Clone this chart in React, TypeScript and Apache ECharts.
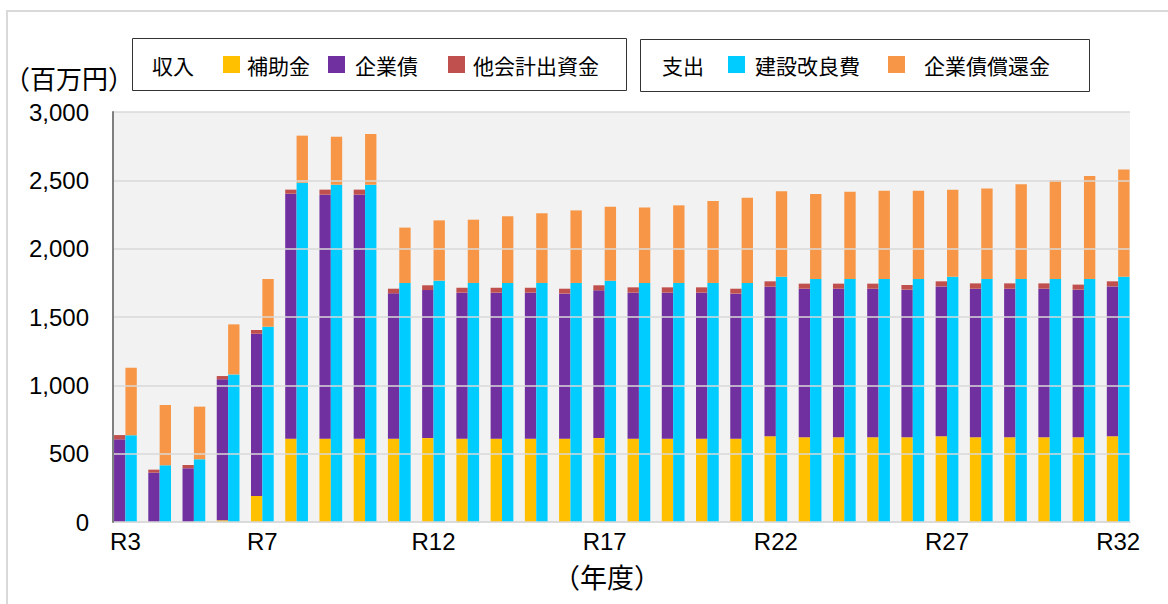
import React, { useEffect, useRef } from "react";
import * as echarts from "echarts";

const years = ["R3","R4","R5","R6","R7","R8","R9","R10","R11","R12","R13","R14","R15","R16","R17","R18","R19","R20","R21","R22","R23","R24","R25","R26","R27","R28","R29","R30","R31","R32"];
const shownYearLabels = ["R3","R7","R12","R17","R22","R27","R32"];
const yTicks = [0, 500, 1000, 1500, 2000, 2500, 3000];

// 収入
const subsidy = [0,0,0,12,190,610,610,610,610,614,610,610,610,610,614,610,610,610,610,627,620,620,620,620,627,620,620,620,620,627];
const bonds = [605,361,393,1032,1188,1792,1785,1785,1063,1083,1068,1068,1068,1061,1081,1068,1068,1068,1061,1095,1087,1087,1087,1080,1097,1087,1087,1087,1080,1097];
const otherAccount = [31,22,24,24,27,30,37,37,34,35,36,36,36,36,37,39,39,39,36,39,37,37,37,34,37,39,39,39,37,37];
// 支出
const construction = [635,415,459,1080,1429,2483,2468,2468,1749,1766,1749,1749,1749,1749,1766,1749,1749,1749,1749,1795,1778,1778,1778,1778,1795,1778,1778,1778,1778,1795];
const repayment = [494,441,385,366,349,344,351,371,405,441,463,488,510,531,541,553,568,600,624,625,622,639,646,646,637,663,693,722,754,785];

const CJK = '"Noto Sans CJK JP", "Noto Sans", sans-serif';
const NUM = '"Liberation Sans", Arial, sans-serif';

const legendItem = (name: string, left: number, pad: number) => ({
  show: true,
  data: [name],
  left,
  top: 54,
  padding: 0,
  icon: "rect",
  itemWidth: 17,
  itemHeight: 17,
  selectedMode: false,
  textStyle: { fontSize: 21, lineHeight: 21, color: "#000", fontFamily: CJK, padding: [0, 0, 0, pad] },
});

export default function App() {
  const ref = useRef<HTMLDivElement>(null);
  useEffect(() => {
    if (!ref.current) return;
    const chart = echarts.init(ref.current, null, { renderer: "svg" });
    const fmt = (v: number) => String(v).replace(/\B(?=(\d{3})+(?!\d))/g, ",");
    const yMin = yTicks[0];
    const yMax = yTicks[yTicks.length - 1];
    chart.setOption({
      animation: false,
      backgroundColor: "#ffffff",
      grid: [
        { left: 113, top: 112, width: 1017, height: 410, show: true, backgroundColor: "#f2f2f2", borderWidth: 0, outerBoundsMode: "none" },
        { left: 108.3, top: 112, width: 1027, height: 410, show: false, outerBoundsMode: "none" },
      ],
      legend: [
        legendItem("補助金", 223, 2),
        legendItem("企業債", 328, 5),
        legendItem("他会計出資金", 448, 3),
        legendItem("建設改良費", 728, 5),
        legendItem("企業債償還金", 888, 14),
      ],
      graphic: [
        { type: "rect", shape: { x: 7, y: 11, width: 1300, height: 800 }, style: { fill: "none", stroke: "#d9d9d9", lineWidth: 2 }, silent: true },
        { type: "rect", shape: { x: 132.5, y: 38.5, width: 494, height: 52 }, style: { fill: "#fff", stroke: "#333", lineWidth: 1 }, z: -1, silent: true },
        { type: "rect", shape: { x: 640.5, y: 39.5, width: 449, height: 52 }, style: { fill: "#fff", stroke: "#333", lineWidth: 1 }, z: -1, silent: true },
        { type: "text", x: 152, y: 65, style: { text: "収入", fontSize: 21, fontFamily: CJK, fill: "#000", verticalAlign: "middle", align: "left" } },
        { type: "text", x: 662, y: 65, style: { text: "支出", fontSize: 21, fontFamily: CJK, fill: "#000", verticalAlign: "middle", align: "left" } },
        { type: "text", x: 4, y: 77, style: { text: "（百万円）", fontSize: 26, fontFamily: CJK, fill: "#000", verticalAlign: "middle", align: "left" } },
        { type: "text", x: 607, y: 576, style: { text: "（年度）", fontSize: 27, fontFamily: CJK, fill: "#000", verticalAlign: "middle", align: "center" } },
      ],
      xAxis: [
        {
          type: "category",
          gridIndex: 0,
          data: years,
          axisLine: { show: true, lineStyle: { color: "#d9d9d9", width: 1.5 } },
          axisTick: { show: false },
          axisLabel: { show: false },
        },
        {
          type: "category",
          gridIndex: 1,
          data: years,
          axisLine: { show: false },
          axisTick: { show: false },
          axisLabel: {
            interval: (i: number, v: string) => shownYearLabels.includes(v),
            margin: 7,
            fontSize: 24,
            fontFamily: NUM,
            color: "#000",
          },
        },
      ],
      yAxis: [
        {
          type: "value",
          gridIndex: 0,
          min: yMin,
          max: yMax,
          interval: 500,
          axisLine: { show: true, lineStyle: { color: "#7f7f7f", width: 2 } },
          axisTick: { show: false },
          splitLine: { show: true, lineStyle: { color: "#d9d9d9", width: 1.5 } },
          axisLabel: { formatter: fmt, margin: 24, fontSize: 24, fontFamily: NUM, color: "#000" },
          z: 3,
        },
        {
          type: "value",
          gridIndex: 1,
          min: yMin,
          max: yMax,
          interval: 500,
          show: false,
          splitLine: { show: false },
        },
      ],
      series: [
        { name: "補助金", type: "bar", xAxisIndex: 1, yAxisIndex: 1, stack: "in", data: subsidy, itemStyle: { color: "#FFC000" }, barGap: "0%", barCategoryGap: "33.6%" },
        { name: "企業債", type: "bar", xAxisIndex: 1, yAxisIndex: 1, stack: "in", data: bonds, itemStyle: { color: "#7030A0" } },
        { name: "他会計出資金", type: "bar", xAxisIndex: 1, yAxisIndex: 1, stack: "in", data: otherAccount, itemStyle: { color: "#C0504D" } },
        { name: "建設改良費", type: "bar", xAxisIndex: 1, yAxisIndex: 1, stack: "out", data: construction, itemStyle: { color: "#00CCFF" }, barGap: "0%", barCategoryGap: "33.6%" },
        { name: "企業債償還金", type: "bar", xAxisIndex: 1, yAxisIndex: 1, stack: "out", data: repayment, itemStyle: { color: "#F79646" } },
      ],
    });
    return () => chart.dispose();
  }, []);
  return <div ref={ref} style={{ position: "fixed", left: 0, top: 0, width: 1168, height: 604 }} />;
}
